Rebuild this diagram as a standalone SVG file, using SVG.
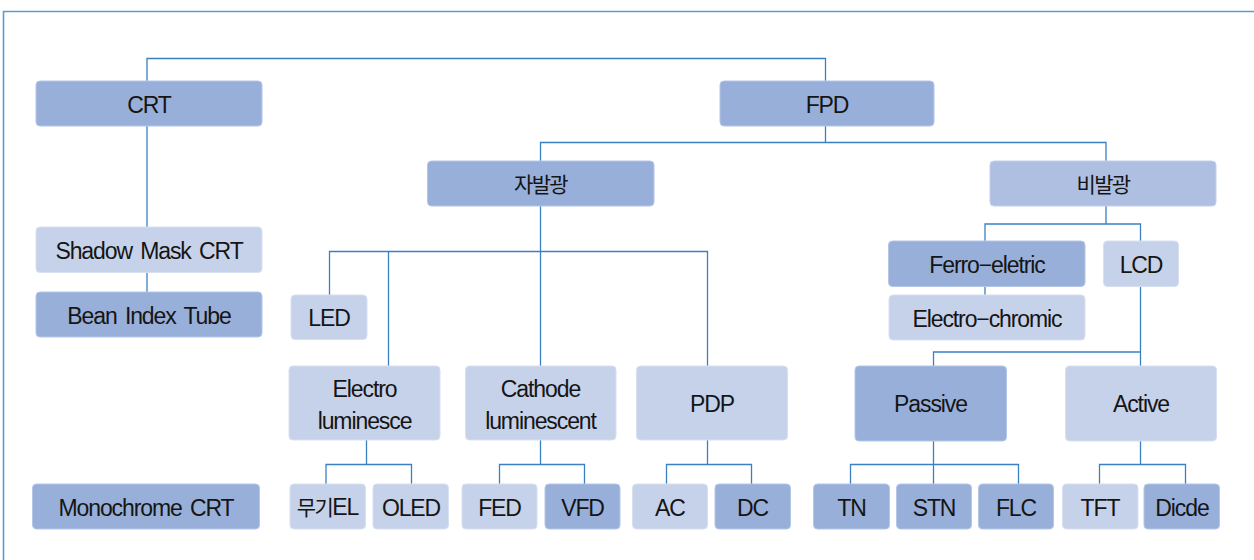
<svg xmlns="http://www.w3.org/2000/svg" width="1254" height="560" viewBox="0 0 1254 560">
<style>
.d{fill:#98AFDA;stroke:#B4C6E6;stroke-width:1}
.l{fill:#C6D2EA;stroke:#D6E0F1;stroke-width:1}
.m{fill:#AEBFE1;stroke:#C3D0EB;stroke-width:1}
text{font-family:"Liberation Sans","Noto Sans CJK KR",sans-serif;font-size:23px;fill:#151515;text-anchor:middle;letter-spacing:-1.1px;word-spacing:3px}
.k{font-size:21px;letter-spacing:-1.6px}
.e{font-size:23px;letter-spacing:-1.1px}
.c{fill:none;stroke:#3A80C2;stroke-width:1.3}
</style>
<rect width="1254" height="560" fill="#fff"/>
<path d="M3.5 560 V11.5 H1254" fill="none" stroke="#5B9BD5" stroke-width="1.6"/>
<g id="connectors" class="c">
<path d="M147 81 V58.5 H825.5 V81"/>
<path d="M147 126 V292"/>
<path d="M825.5 126 V142.5 M540.5 161 V142.5 H1106 V161"/>
<path d="M540.5 206 V366 M329.5 295 V251.5 H707.5 V366 M388.5 251.5 V366"/>
<path d="M1106 206 V224 M985 241 V224 H1140.5 V241 M985 286 V295"/>
<path d="M1140.5 286 V366 M933.5 366 V352 H1140.5"/>
<path d="M366.5 440 V464.5 M326 484 V464.5 H411.5 V484"/>
<path d="M540.5 440 V464.5 M499.5 484 V464.5 H584.5 V484"/>
<path d="M707.5 440 V464.5 M666.5 484 V464.5 H751.5 V484"/>
<path d="M933.5 441 V484 M850.5 484 V464.5 H1018.5 V484"/>
<path d="M1140.5 441 V464.5 M1099.5 484 V464.5 H1185.5 V484"/>
</g>
<g id="crt"><rect class="d" x="36" y="81" width="226" height="45" rx="4"/><text x="149" y="112.5">CRT</text></g>
<g id="fpd"><rect class="d" x="720" y="81" width="214" height="45" rx="4"/><text x="827" y="112.5">FPD</text></g>
<g id="jabalgwang"><rect class="d" x="427.5" y="161" width="226.5" height="45" rx="4"/><text class="k" x="540.5" y="192">자발광</text></g>
<g id="bibalgwang"><rect class="m" x="990" y="161" width="226" height="45" rx="4"/><text class="k" x="1103" y="192">비발광</text></g>
<g id="shadow"><rect class="l" x="36" y="227" width="226" height="45.5" rx="4"/><text x="149" y="258.5">Shadow Mask CRT</text></g>
<g id="bean"><rect class="d" x="36" y="292" width="226" height="45" rx="4"/><text x="149" y="323.5">Bean Index Tube</text></g>
<g id="led"><rect class="l" x="291" y="295" width="76" height="44.5" rx="4"/><text x="329" y="326">LED</text></g>
<g id="ferro"><rect class="d" x="888.5" y="241" width="196.5" height="45.5" rx="4"/><text x="987" y="272.5">Ferro−eletric</text></g>
<g id="lcd"><rect class="l" x="1103.5" y="241" width="75" height="45.5" rx="4"/><text x="1141" y="272.5">LCD</text></g>
<g id="echromic"><rect class="l" x="889" y="295" width="196" height="45" rx="4"/><text x="987" y="326.5">Electro−chromic</text></g>
<g id="electrolum"><rect class="l" x="289" y="366" width="151" height="74" rx="4"/><text x="364.5" y="397">Electro</text><text x="364.5" y="429">luminesce</text></g>
<g id="cathode"><rect class="l" x="465.5" y="366" width="150.5" height="74" rx="4"/><text x="540.5" y="397">Cathode</text><text x="540.5" y="429">luminescent</text></g>
<g id="pdp"><rect class="l" x="636.5" y="366" width="151" height="74" rx="4"/><text x="712" y="412">PDP</text></g>
<g id="passive"><rect class="d" x="855" y="366" width="151.5" height="75" rx="4"/><text x="930.5" y="412">Passive</text></g>
<g id="active"><rect class="l" x="1065.5" y="366" width="151" height="75" rx="4"/><text x="1141" y="412">Active</text></g>
<g id="mono"><rect class="d" x="32.5" y="484" width="227" height="45" rx="4"/><text x="146" y="515.5">Monochrome CRT</text></g>
<g id="mugiel"><rect class="l" x="290" y="484" width="75.5" height="45" rx="4"/><text class="k" x="327.5" y="515">무기<tspan class="e">EL</tspan></text></g>
<g id="oled"><rect class="l" x="373" y="484" width="75.5" height="45" rx="4"/><text x="411" y="515.5">OLED</text></g>
<g id="fed"><rect class="l" x="462" y="484" width="75" height="45" rx="4"/><text x="499.5" y="515.5">FED</text></g>
<g id="vfd"><rect class="d" x="545" y="484" width="75" height="45" rx="4"/><text x="582.5" y="515.5">VFD</text></g>
<g id="ac"><rect class="l" x="632.5" y="484" width="75" height="45" rx="4"/><text x="670" y="515.5">AC</text></g>
<g id="dc"><rect class="d" x="715" y="484" width="75.5" height="45" rx="4"/><text x="752.5" y="515.5">DC</text></g>
<g id="tn"><rect class="d" x="813.5" y="484" width="76" height="45" rx="4"/><text x="851.5" y="515.5">TN</text></g>
<g id="stn"><rect class="d" x="896.5" y="484" width="75" height="45" rx="4"/><text x="934" y="515.5">STN</text></g>
<g id="flc"><rect class="d" x="978.5" y="484" width="75" height="45" rx="4"/><text x="1016" y="515.5">FLC</text></g>
<g id="tft"><rect class="l" x="1062.5" y="484" width="75.5" height="45" rx="4"/><text x="1100" y="515.5">TFT</text></g>
<g id="dicde"><rect class="d" x="1144" y="484" width="75.5" height="45" rx="4"/><text x="1182" y="515.5">Dicde</text></g>
</svg>
